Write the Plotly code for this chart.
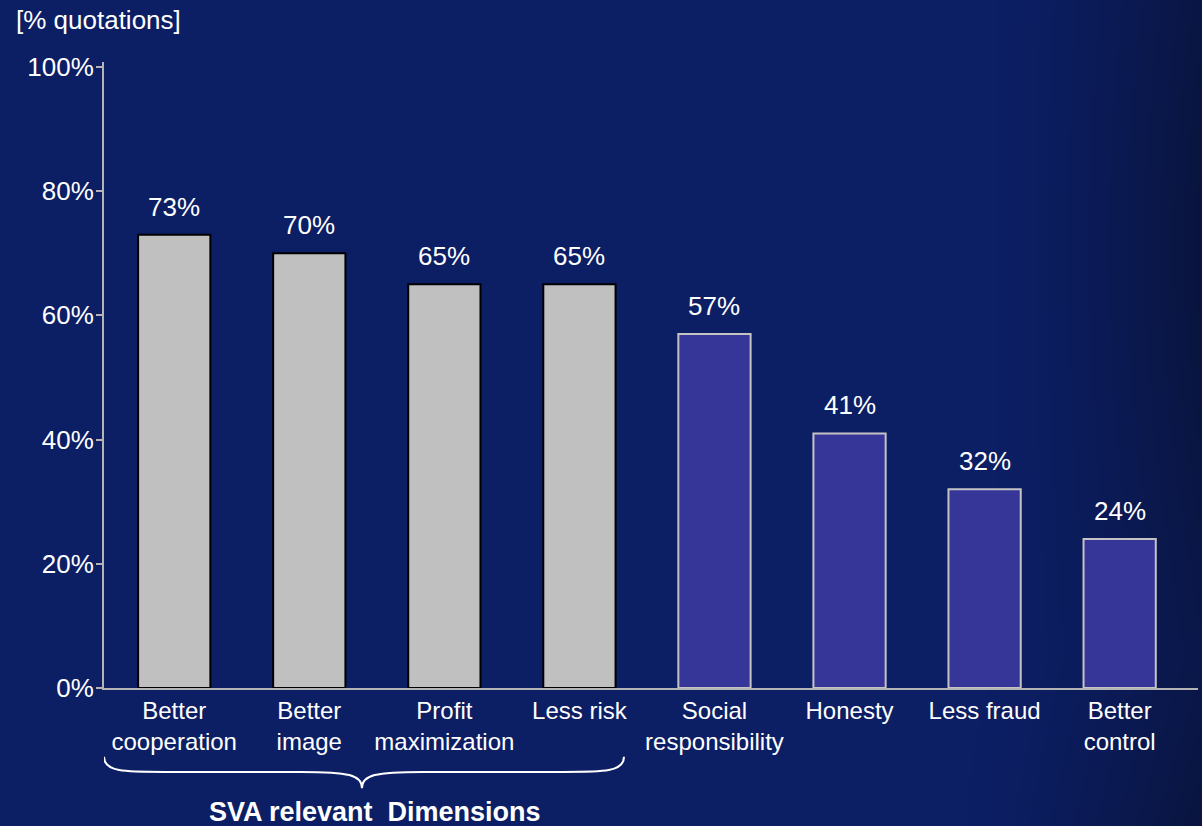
import base64
import struct
import zlib

import numpy as np
import plotly.graph_objects as go

# ---- data -------------------------------------------------------------
categories = [
    "Better<br>cooperation", "Better<br>image", "Profit<br>maximization", "Less risk",
    "Social<br>responsibility", "Honesty", "Less fraud", "Better<br>control",
]
values = [73, 70, 65, 65, 57, 41, 32, 24]
sva_relevant = [True, True, True, True, False, False, False, False]
y_ticks = [0, 20, 40, 60, 80, 100]
y_tick_labels = ["0%", "20%", "40%", "60%", "80%", "100%"]

W, H = 1202, 826
BG = (12, 30, 100)


# ---- background with a darker right edge -----------------------------
def png_data_uri(rgb):
    h, w, _ = rgb.shape
    raw = b"".join(b"\x00" + rgb[r].astype(np.uint8).tobytes() for r in range(h))

    def chunk(tag, data):
        c = tag + data
        return struct.pack(">I", len(data)) + c + struct.pack(">I", zlib.crc32(c) & 0xFFFFFFFF)

    png = (b"\x89PNG\r\n\x1a\n"
           + chunk(b"IHDR", struct.pack(">IIBBBBB", w, h, 8, 2, 0, 0, 0))
           + chunk(b"IDAT", zlib.compress(raw, 9))
           + chunk(b"IEND", b""))
    return "data:image/png;base64," + base64.b64encode(png).decode()


gw, gh = 301, 207
xs = np.linspace(0, 1, gw)[None, :]
ys = np.linspace(0, 1, gh)[:, None]
shade = np.clip((xs - 0.82) / 0.18, 0, 1) ** 1.5
shade = shade * (0.6 + 0.4 * np.exp(-((ys - 0.3) / 0.45) ** 2))
corner = np.clip((xs - 0.8) / 0.2, 0, 1) * np.clip((ys - 0.8) / 0.2, 0, 1) * 0.35
shade = np.clip(shade + corner, 0, 1)
base = np.array(BG, dtype=float)[None, None, :]
dark = np.array((9, 20, 62), dtype=float)[None, None, :]
img = base * (1 - shade[..., None]) + dark * shade[..., None]
bg_uri = png_data_uri(np.round(img))

# ---- figure -----------------------------------------------------------
FONT = "Liberation Sans, Arial, sans-serif"
L, R, T, B = 104, 4, 62, 138
pw, ph = W - L - R, H - T - B

fig = go.Figure()
fig.add_trace(go.Bar(
    x=list(range(len(categories))),
    y=values,
    width=0.535,
    marker=dict(
        color=["#C0C0C0" if s else "#363699" for s in sva_relevant],
        line=dict(color=["#000000" if s else "#C4C4C4" for s in sva_relevant], width=2),
    ),
    hoverinfo="skip",
))

for i, v in enumerate(values):
    fig.add_annotation(
        x=i, y=v, xref="x", yref="y", text=f"{v}%", showarrow=False,
        yanchor="bottom", yshift=11,
        font=dict(family=FONT, size=26, color="white"),
    )

# curly brace grouping the SVA-relevant dimensions
x0, x1, xm = -0.52, 3.33, 1.39
yt, ymid, ytip = -0.110, -0.134, -0.160
brace = (f"M {x0},{yt} C {x0},{ymid} {x0 + 0.15},{ymid} {x0 + 0.45},{ymid} "
         f"L {xm - 0.45},{ymid} C {xm - 0.1},{ymid} {xm},{ymid - 0.005} {xm},{ytip} "
         f"C {xm},{ymid - 0.005} {xm + 0.1},{ymid} {xm + 0.45},{ymid} "
         f"L {x1 - 0.45},{ymid} C {x1 - 0.15},{ymid} {x1},{ymid} {x1},{yt}")
fig.add_shape(type="path", path=brace, xref="x", yref="paper",
              line=dict(color="white", width=2))

fig.add_annotation(
    x=(375 - L) / pw, y=(H - 812 - B) / ph, xref="paper", yref="paper",
    text="<b>SVA relevant  Dimensions</b>",
    showarrow=False, xanchor="center", yanchor="middle",
    font=dict(family=FONT, size=27, color="white"),
)
fig.add_annotation(
    x=(14 - L) / pw, y=(H - 20 - B) / ph, xref="paper", yref="paper",
    text="[% quotations]", showarrow=False,
    xanchor="left", yanchor="middle", font=dict(family=FONT, size=26, color="white"),
)

fig.add_layout_image(
    source=bg_uri, xref="paper", yref="paper",
    x=-L / pw, y=1 + T / ph, sizex=W / pw, sizey=H / ph,
    xanchor="left", yanchor="top", sizing="stretch", layer="below",
)

fig.update_layout(
    width=W, height=H,
    margin=dict(l=L, r=R, t=T, b=B),
    paper_bgcolor="rgb(%d,%d,%d)" % BG,
    plot_bgcolor="rgba(0,0,0,0)",
    showlegend=False,
    font=dict(family=FONT, color="white", size=24),
    xaxis=dict(
        range=[-0.52, 7.58], tickmode="array",
        tickvals=list(range(len(categories))), ticktext=categories,
        showgrid=False, zeroline=False, showline=True, linecolor="#B4B4B4", linewidth=2,
        ticks="", tickfont=dict(family=FONT, size=24, color="white"), fixedrange=True,
    ),
    yaxis=dict(
        range=[0, 100.8], tickmode="array", tickvals=y_ticks, ticktext=y_tick_labels,
        showgrid=False, zeroline=False, showline=True, linecolor="#B4B4B4", linewidth=2,
        ticks="outside", ticklen=6, tickwidth=1.5, tickcolor="#B4B4B4",
        ticklabelstandoff=-3,
        tickfont=dict(family=FONT, size=26, color="white"), fixedrange=True,
    ),
)

fig.write_html("out.html", config={"displayModeBar": False})
